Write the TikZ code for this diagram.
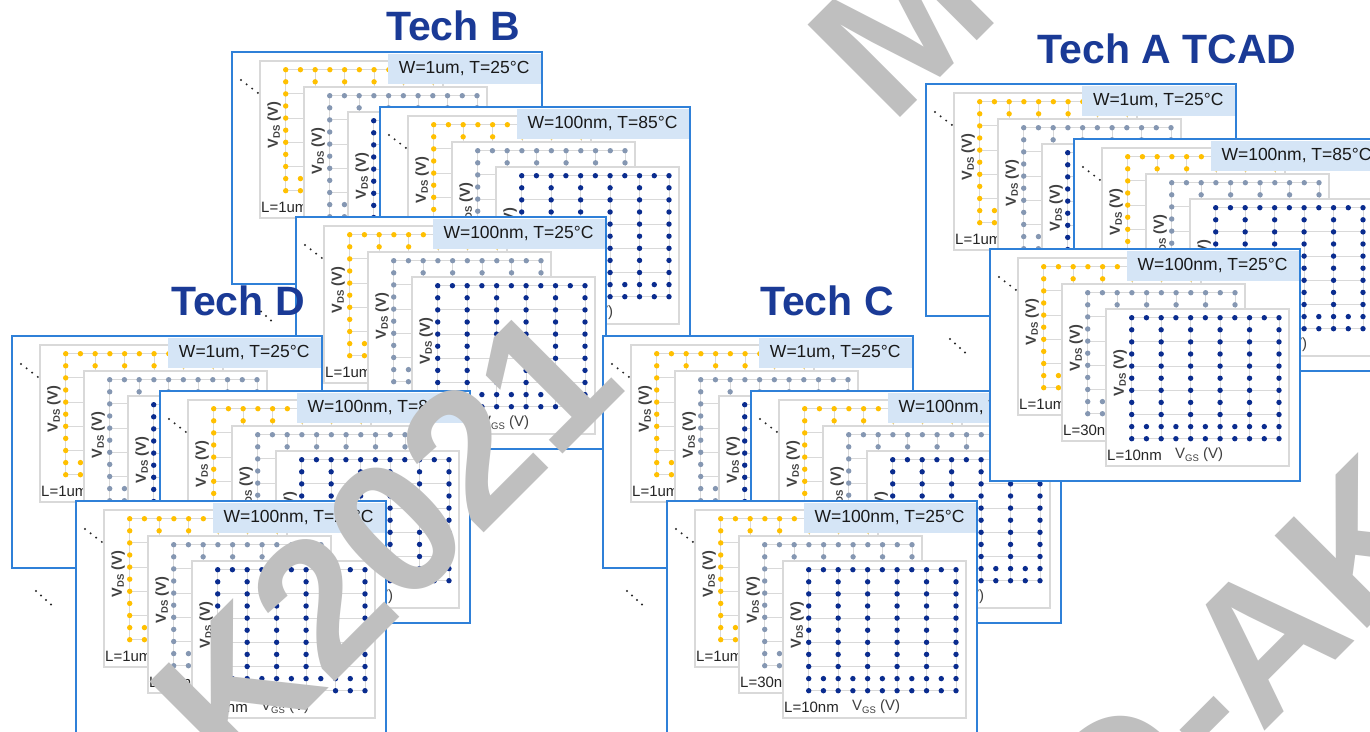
\documentclass[tikz,border=0pt]{standalone}
\usepackage{fontspec}
\setmainfont{Liberation Sans}
\definecolor{cardblue}{HTML}{2F80D8}
\definecolor{lblue}{HTML}{D5E5F6}
\definecolor{gridgrey}{HTML}{D9D9D9}
\definecolor{cyellow}{HTML}{FFC000}
\definecolor{cgrey}{HTML}{8597B2}
\definecolor{cnavy}{HTML}{0A2C8F}
\definecolor{titlenavy}{HTML}{1A3A96}
\definecolor{textdark}{HTML}{262626}
\definecolor{vdsgrey}{HTML}{404040}
\definecolor{wmgrey}{HTML}{BFBFBF}
\newcommand\mysub[1]{\raisebox{-2.2pt}{\fontsize{9.5}{10}\selectfont #1}}
\tikzset{
  card/.style={draw=cardblue, line width=2.5pt, fill=white},
  lbox/.style={fill=lblue, inner xsep=11pt, inner ysep=0pt, minimum height=30pt, anchor=north east, font=\fontsize{17.5}{20}\selectfont, text=black!90},
  pframe/.style={draw=gridgrey, line width=1.3pt, fill=white},
  gridl/.style={draw=gridgrey, line width=1pt},
  vds/.style={rotate=90, inner sep=0pt, font=\fontsize{14.5}{16}\selectfont\bfseries, text=vdsgrey},
  llab/.style={anchor=west, inner sep=0pt, font=\fontsize{15}{17}\selectfont, text=textdark},
  glab/.style={anchor=west, inner sep=0pt, font=\fontsize{15}{17}\selectfont, text=vdsgrey},
  titletext/.style={anchor=base, inner sep=0pt, font=\fontsize{41}{46}\selectfont\bfseries, text=titlenavy},
  wm/.style={rotate=45, anchor=base west, inner sep=0pt, font=\fontsize{190}{190}\selectfont\bfseries, text=wmgrey},
}
\newcommand\myplot[5]{%
  \begin{scope}[shift={(#2,#3)}]
    \filldraw[pframe] (0,0) rectangle (183,157);
    \foreach \c in {0,2,...,10} {\draw[gridl] ({25.7+14.73*\c},8.7) -- ({25.7+14.73*\c},129.7);}
    \foreach \r in {0,2,...,10} {\draw[gridl] (25.7,{8.7+12.1*\r}) -- (173,{8.7+12.1*\r});}
    \foreach \c in {0,2,...,10} {\foreach \r in {0,...,10} {\fill[#4] ({25.7+14.73*\c},{8.7+12.1*\r}) circle (2.7);}}
    \foreach \c in {1,3,...,9} {\foreach \r in {0,9,10} {\fill[#4] ({25.7+14.73*\c},{8.7+12.1*\r}) circle (2.7);}}
    \node[vds] (#1v) at (14,64) {V\mysub{DS} (V)};
    \node[llab] (#1l) at (1,146) {#5};
  \end{scope}}
\newcommand\mycard[4]{%
  \begin{scope}[shift={({#2},{#3})}]
    \filldraw[card] (0,0) rectangle (310,232);
    \foreach \i in {0,...,3} {\fill[black!85] ({9+5.6*\i},{28+4.3*\i}) circle (1.1);}
    \myplot{#1a}{28}{9}{cyellow}{L=1um}
    \myplot{#1b}{72}{35}{cgrey}{L=30nm}
    \myplot{#1c}{116}{60}{cnavy}{L=10nm}
    \node[glab] (#1g) at (185,206) {V\mysub{GS} (V)};
    \node[lbox] (#1w) at (308.7,1.3) {#4};
  \end{scope}}
\newcommand\mygroup[3]{%
  \mycard{#11}{#2}{#3}{W=1um, T=25°C}
  \mycard{#12}{#2+148}{#3+55}{W=100nm, T=85°C}
  \mycard{#13}{#2+64}{#3+165}{W=100nm, T=25°C}
  \foreach \i in {0,...,3} {\fill[black!85] ({#2+24+5*\i},{#3+255+4.5*\i}) circle (1.1);}
}
\begin{document}
\begin{tikzpicture}[x=1pt, y=-1pt]
  \useasboundingbox (0,0) rectangle (1370,731);
  \clip (0,0) rectangle (1370,731);
  \fill[white] (0,0) rectangle (1370,731);
  \mygroup{B}{232}{52}
  \mygroup{D}{12}{336}
  \mygroup{C}{603}{336}
  \mygroup{A}{926}{84}
  \node[titletext] (tB) at (453,40) {Tech B};
  \node[titletext] (tA) at (1167,63) {Tech A TCAD};
  \node[titletext] (tD) at (238,315) {Tech D};
  \node[titletext] (tC) at (827,315) {Tech C};
  \node[wm] (wm1) at (233,784) {K2021};
  \node[wm] (wm2) at (891,127) {M};
  \node[wm] (wm3) at (1120,876) {D-AK};
\end{tikzpicture}
\end{document}
